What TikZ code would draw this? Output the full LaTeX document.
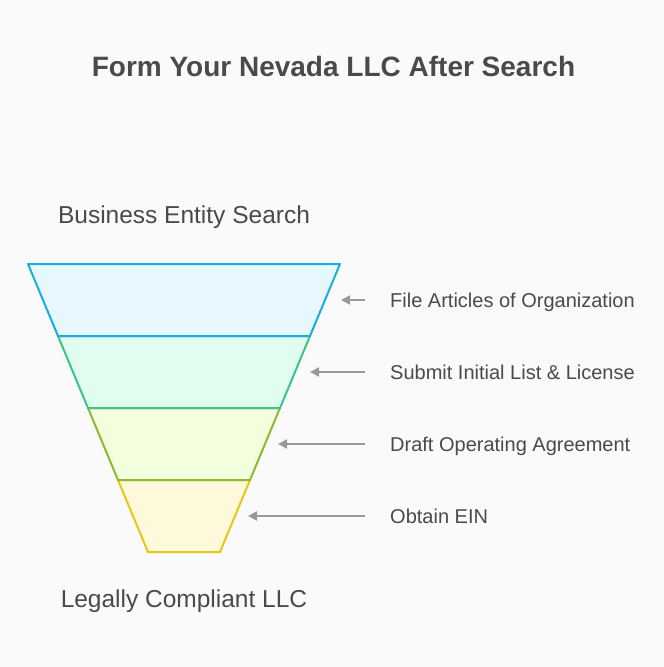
\documentclass[tikz,border=0pt]{standalone}
\usepackage{fontspec}
\setmainfont{Liberation Sans}
\usetikzlibrary{arrows.meta,positioning}

\definecolor{paper}{HTML}{FAFAFA}
\definecolor{ink}{HTML}{4A4A4A}
\definecolor{pointergray}{HTML}{999999}
\definecolor{blueline}{HTML}{1BAEDC}
\definecolor{bluefill}{HTML}{E6F8FE}
\definecolor{greenline}{HTML}{3CC48A}
\definecolor{greenfill}{HTML}{E2FDF0}
\definecolor{oliveline}{HTML}{8DBB2E}
\definecolor{olivefill}{HTML}{F2FEDE}
\definecolor{yellowline}{HTML}{E3CA14}
\definecolor{yellowfill}{HTML}{FFF9DC}

\begin{document}
\begin{tikzpicture}
    [ x = 1pt, y = -1pt
    , band/.style =
      { line width = 2pt, line join = round }
    , pointer/.style =
      { draw = pointergray, line width = 2pt
      , -{Triangle[length=9pt,width=9pt]} }
    , steplabel/.style =
      { anchor = west, inner xsep = 25pt, inner ysep = 0pt
      , text height = 14.3pt, text depth = 0pt
      , text = ink, font = \fontsize{20}{24}\selectfont }
    , endlabel/.style =
      { text = ink, font = \fontsize{24.5}{28}\selectfont }
    ]
    \fill [paper] (0,0) rectangle (664,667);
    \useasboundingbox (0,0) rectangle (664,667);

    \node [text = ink, font = \fontsize{28}{32}\selectfont\bfseries] (title) at (333.5,66) {Form Your Nevada LLC After Search};

    % funnel, drawn bottom up
    \draw [band, draw = yellowline, fill = yellowfill] (118,480) -- (250,480) -- (220,552) -- (148,552) -- cycle;
    \draw [band, draw = oliveline, fill = olivefill] (88,408) -- (280,408) -- (250,480) -- (118,480) -- cycle;
    \draw [band, draw = greenline, fill = greenfill] (58,336) -- (310,336) -- (280,408) -- (88,408) -- cycle;
    \draw [band, draw = blueline, fill = bluefill] (28,264) -- (340,264) -- (310,336) -- (58,336) -- cycle;

    \node [endlabel] (search) at (184,217) {Business Entity Search};
    \node [endlabel] (compliant) at (184,601) {Legally Compliant LLC};

    % steps
    \coordinate (tip1) at (341,300);
    \coordinate (tip2) at (310,372);
    \coordinate (tip3) at (278,444);
    \coordinate (tip4) at (248,516);

    \node [steplabel] (articles) at (365,300) {File Articles of Organization};
    \node [steplabel] (initial) at (365,372) {Submit Initial List \& License};
    \node [steplabel] (agreement) at (365,444) {Draft Operating Agreement};
    \node [steplabel] (ein) at (365,516) {Obtain EIN};

    \draw [pointer] (articles.west) -- (tip1);
    \draw [pointer] (initial.west) -- (tip2);
    \draw [pointer] (agreement.west) -- (tip3);
    \draw [pointer] (ein.west) -- (tip4);
\end{tikzpicture}
\end{document}
